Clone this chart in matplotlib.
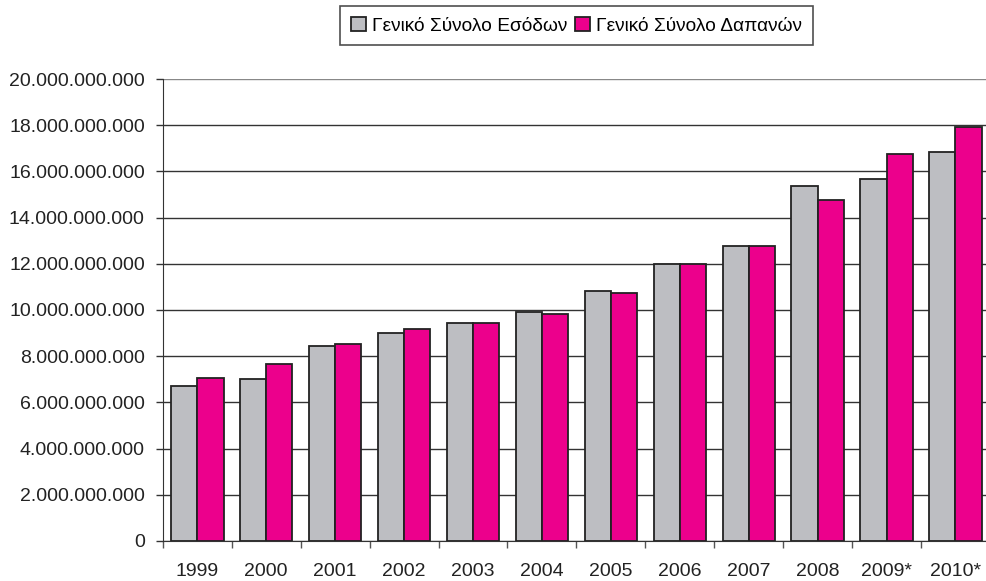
import numpy as np
import matplotlib.pyplot as plt
from matplotlib.ticker import FuncFormatter

years = ["1999", "2000", "2001", "2002", "2003", "2004", "2005",
         "2006", "2007", "2008", "2009*", "2010*"]
# values in billions
esoda = [6.71, 7.01, 8.44, 9.00, 9.44, 9.91, 10.82, 11.99, 12.78, 15.38, 15.68, 16.85]
dapanes = [7.06, 7.66, 8.53, 9.18, 9.44, 9.83, 10.74, 11.99, 12.78, 14.76, 16.77, 17.91]

plt.rcParams['font.family'] = ['Liberation Sans', 'DejaVu Sans']

fig = plt.figure(figsize=(9.87, 5.81), dpi=100)
ax = fig.add_axes([0.165, 0.069, 0.838, 0.795])

x = np.arange(len(years))
w = 0.38
e = np.array(esoda) * 1e9
d = np.array(dapanes) * 1e9
ax.bar(x - w / 2, e, w, color='#bdbec2', edgecolor='#222222', linewidth=1.3,
       label="Γενικό Σύνολο Εσόδων", zorder=3)
ax.bar(x + w / 2, d, w, color='#ec008c', edgecolor='#222222', linewidth=1.3,
       label="Γενικό Σύνολο Δαπανών", zorder=3)

ax.set_ylim(0, 20e9)
ax.set_xlim(-0.5, len(years) - 0.5)
ax.set_yticks(np.arange(0, 20.1e9, 2e9))
ax.yaxis.set_major_formatter(FuncFormatter(lambda v, p: f"{int(round(v)):,}".replace(",", ".")))
ax.set_xticks(x)
ax.set_xticklabels(years)
ax.set_xticks(np.arange(-0.5, len(years), 1), minor=True)
ax.tick_params(axis='x', which='major', length=0, pad=16, labelsize=14, colors='#222222')
ax.tick_params(axis='x', which='minor', length=5, width=1, color='#555555')
ax.tick_params(axis='y', length=5, width=1, color='#333333', labelsize=14, labelcolor='#222222', pad=8)

ax.grid(axis='y', color='#333333', linewidth=1, zorder=0)
ax.get_ygridlines()[-1].set_color('#888888')
for s in ['top', 'right']:
    ax.spines[s].set_visible(False)
ax.spines['left'].set_color('#333333')
ax.spines['bottom'].set_color('#333333')

leg = fig.legend(loc='upper center', bbox_to_anchor=(0.584, 1.006), ncol=2,
                 fontsize=13.8, frameon=True, fancybox=False, edgecolor='#222222',
                 handlelength=0.8, handleheight=0.8, handletextpad=0.3,
                 columnspacing=0.4, borderpad=0.55)
leg.get_frame().set_linewidth(1.2)

fig.savefig("out.png", dpi=100)
